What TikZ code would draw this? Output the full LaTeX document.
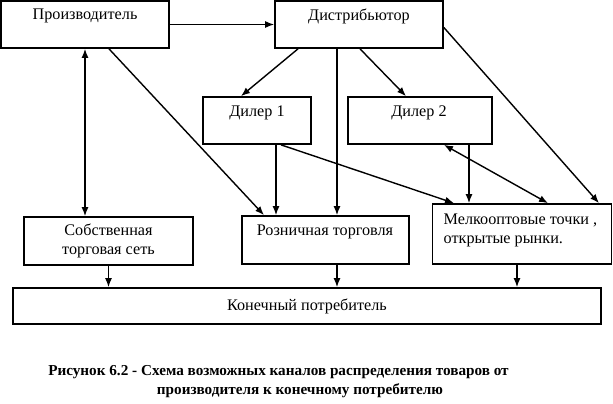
\documentclass[tikz,border=0pt]{standalone}
\usepackage{fontspec}
\setmainfont{Liberation Serif}
\usetikzlibrary{arrows.meta}

\begin{document}
\begin{tikzpicture}[x=1pt, y=-1pt, line width=1.4pt,
    font=\fontsize{16.2}{19}\selectfont,
    box/.style={draw, line width=1.7pt, inner sep=0pt},
    txt/.style={inner sep=0pt},
    captxt/.style={inner sep=0pt, font=\fontsize{15.2}{18}\selectfont\bfseries},
    arr/.style={-{Latex[length=9pt,width=7pt]}},
    twoway/.style={{Latex[length=9pt,width=7pt]}-{Latex[length=9pt,width=7pt]}}]
    \useasboundingbox (0,0) rectangle (613,404);

    \node[box, minimum width=168pt, minimum height=47pt](prod) at (85,24.5) {};
    \node[box, minimum width=168pt, minimum height=47pt](dist) at (359,24.5) {};
    \node[txt](prodtxt) at (85,16) {Производитель};
    \node[txt](disttxt) at (359,16) {Дистрибьютор};

    \node[box, minimum width=108pt, minimum height=47pt](dil1) at (257,120.5) {};
    \node[box, minimum width=144pt, minimum height=47pt](dil2) at (420,120.5) {};
    \node[txt](dil1txt) at (257,113) {Дилер 1};
    \node[txt](dil2txt) at (419,113) {Дилер 2};

    \node[box, minimum width=169pt, minimum height=48pt, align=center](own) at (108.5,241)
        {Собственная\\торговая сеть};
    \node[box, minimum width=167pt, minimum height=48pt](ret) at (325.5,240) {};
    \node[box, minimum width=179pt, minimum height=60pt](melk) at (522,234) {};
    \node[txt](rettxt) at (325,232) {Розничная торговля};
    \node[txt, align=left, anchor=west](melktxt) at (443,230)
        {Мелкооптовые точки ,\\открытые рынки.};

    \node[box, minimum width=588pt, minimum height=36pt](fin) at (307,306) {Конечный потребитель};

    \node[captxt](cap1) at (278.5,372) {Рисунок 6.2 - Схема возможных каналов распределения товаров от};
    \node[captxt](cap2) at (300,391) {производителя к конечному потребителю};

    \path[arr] (prod) edge (dist)
               ([xshift=-61pt]dist.south) edge ([xshift=-16pt]dil1.north)
               ([xshift=1pt]dist.south) edge ([xshift=-14pt]dil2.north)
               ([xshift=-22pt]dist.south) edge ([xshift=-22pt]dist.south |- ret.north)
               ([yshift=-3pt]dist.east) edge ([xshift=77pt]melk.north)
               ([xshift=24pt]prod.south) edge ([xshift=-61.5pt]ret.north)
               ([xshift=19pt]dil1.south) edge ([xshift=19pt]dil1.south |- ret.north)
               ([xshift=24pt]dil1.south) edge ([xshift=-68pt]melk.north)
               ([xshift=49pt]dil2.south) edge ([xshift=49pt]dil2.south |- melk.north)
               (own.south) edge (own.south |- fin.north)
               ([xshift=11.5pt]ret.south) edge ([xshift=11.5pt]ret.south |- fin.north)
               ([xshift=-5pt]melk.south) edge ([xshift=-5pt]melk.south |- fin.north);
    \path[twoway] (prod.south) edge (prod.south |- own.north)
                ([xshift=24pt]dil2.south) edge ([xshift=26pt]melk.north);
  \end{tikzpicture}
\end{document}
